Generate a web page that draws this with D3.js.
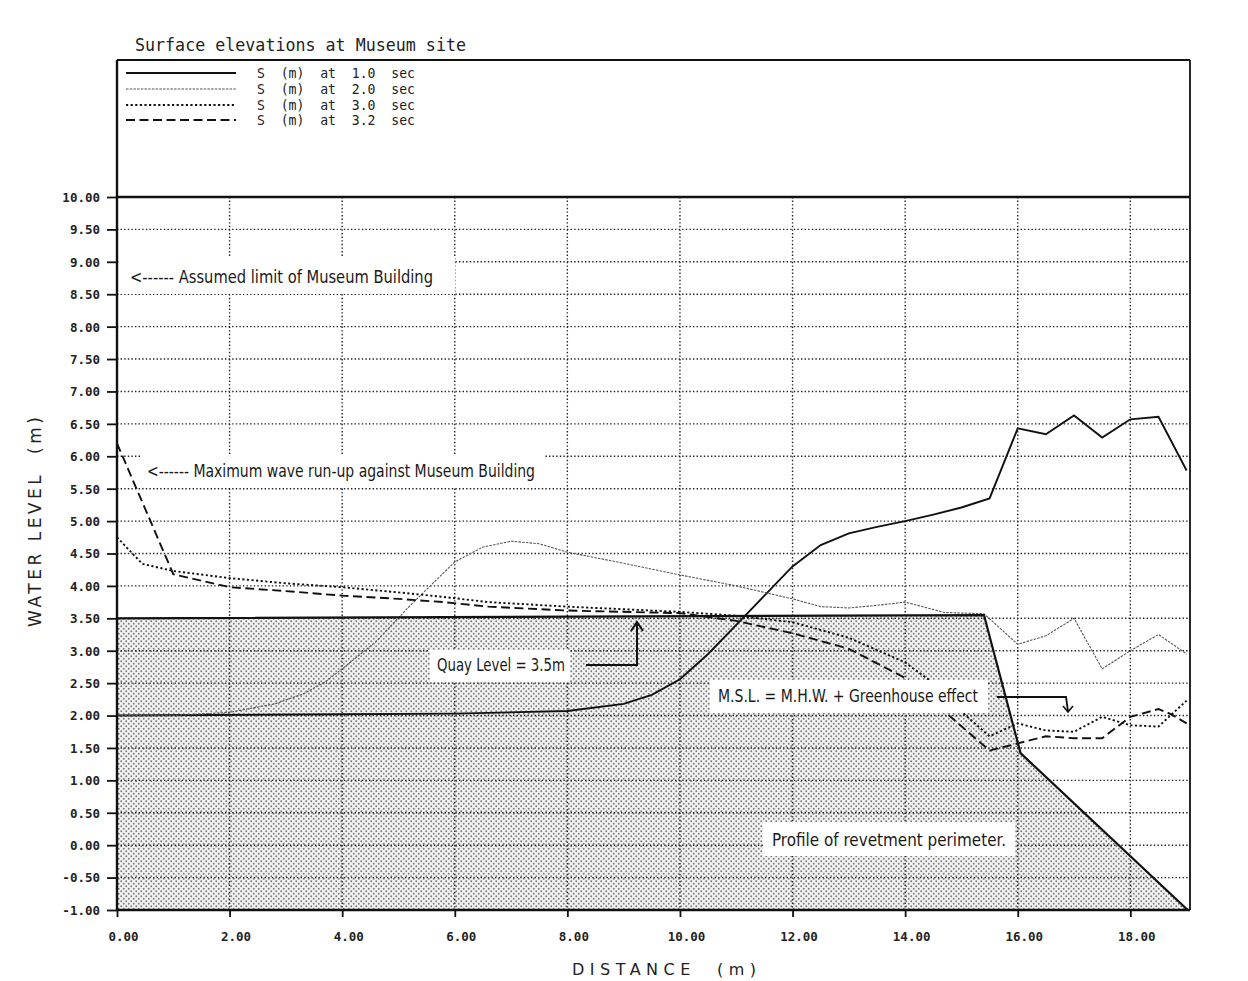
<!DOCTYPE html>
<html>
<head>
<meta charset="utf-8">
<script src="https://cdn.jsdelivr.net/npm/d3@7"></script>
<style>
  body { margin: 0; background: #fff; }
  svg { display: block; }
</style>
</head>
<body>
<svg id="chart" width="1248" height="981"></svg>
<script>
"use strict";

// ---- data ----
var titleText = "Surface elevations at Museum site";
var seriesNames = ["S  (m)  at  1.0  sec", "S  (m)  at  2.0  sec", "S  (m)  at  3.0  sec", "S  (m)  at  3.2  sec"];

// surface elevation S (m) against distance (m)
var s10 = [[0,2.0],[4,2.02],[6,2.03],[8,2.07],[9,2.18],[9.5,2.32],[10,2.56],[10.5,2.95],[11,3.4],[11.5,3.85],
           [12,4.3],[12.5,4.63],[13,4.81],[13.5,4.91],[14,5.0],[14.5,5.1],[15,5.21],[15.5,5.35],
           [16,6.43],[16.5,6.34],[17,6.63],[17.5,6.29],[18,6.57],[18.5,6.61],[19,5.78]];
var s20 = [[0,2.0],[1,2.0],[2,2.05],[2.8,2.18],[3.3,2.33],[3.7,2.52],[4,2.72],[4.6,3.14],[5.2,3.69],[5.8,4.2],
           [6,4.37],[6.5,4.6],[7,4.69],[7.5,4.65],[8,4.52],[9,4.35],[10,4.17],[11,4.0],[12,3.8],[12.5,3.68],
           [13,3.66],[13.5,3.7],[14,3.75],[14.7,3.59],[15.4,3.57],[16,3.1],[16.5,3.23],[17,3.5],[17.5,2.72],
           [18,3.0],[18.5,3.25],[19,2.95]];
var s30 = [[0,4.75],[0.45,4.34],[1,4.23],[2,4.12],[3,4.04],[4,3.98],[5,3.9],[5.8,3.83],[6.6,3.75],[8,3.68],
           [10,3.6],[11,3.54],[12,3.44],[13,3.2],[14,2.82],[14.5,2.5],[15,2.06],[15.5,1.68],[16,1.88],
           [16.5,1.77],[17,1.75],[17.5,1.98],[18,1.85],[18.5,1.83],[18.9,2.15],[19,2.23]];
var s32 = [[0,6.2],[1,4.18],[2,3.98],[3,3.92],[4,3.85],[5,3.8],[5.8,3.75],[6.6,3.68],[8,3.62],[10,3.58],
           [11,3.46],[12,3.27],[13,3.03],[14,2.58],[14.7,2.06],[15.5,1.46],[16,1.57],[16.5,1.68],[17,1.65],
           [17.5,1.65],[18,1.98],[18.5,2.1],[18.7,2.03],[19,1.88]];

// profile of the revetment perimeter (quay level 3.5 m)
var profile = [[0,3.5],[15.4,3.55],[16.05,1.42],[19.02,-1.0]];

var xTicks = [0, 2, 4, 6, 8, 10, 12, 14, 16, 18];
var yTicks = [-1, -0.5, 0, 0.5, 1, 1.5, 2, 2.5, 3, 3.5, 4, 4.5, 5, 5.5, 6, 6.5, 7, 7.5, 8, 8.5, 9, 9.5, 10];

// ---- layout ----
var plotL = 117, plotR = 1190, plotT = 197, plotB = 910, boxTop = 60;
var x = d3.scaleLinear().domain([0, 19.06]).range([plotL, plotR]);
var y = d3.scaleLinear().domain([-1, 10]).range([plotB, plotT]);

var svg = d3.select("#chart");
var monoFont = "'DejaVu Sans Mono', 'Liberation Mono', monospace";
var narrowFont = "'Liberation Sans Narrow', 'DejaVu Sans Condensed', 'Roboto', sans-serif";

svg.append("rect").attr("width", 1248).attr("height", 981).attr("fill", "#fff");

var defs = svg.append("defs");
var pat = defs.append("pattern")
    .attr("id", "stipple")
    .attr("width", 5).attr("height", 5)
    .attr("patternUnits", "userSpaceOnUse");
pat.append("rect").attr("width", 5).attr("height", 5).attr("fill", "#f2f2f2");
pat.append("circle").attr("cx", 1.25).attr("cy", 1.25).attr("r", 0.95).attr("fill", "#7a7a7a");
pat.append("circle").attr("cx", 3.75).attr("cy", 3.75).attr("r", 0.95).attr("fill", "#7a7a7a");

// shaded revetment body
var area = d3.area().x(function (d) { return x(d[0]); }).y0(y(-1)).y1(function (d) { return y(d[1]); });
svg.append("path").datum(profile).attr("d", area).attr("fill", "url(#stipple)");

// dotted grid
var grid = svg.append("g").attr("class", "grid");
grid.selectAll("line.h")
    .data(yTicks.filter(function (d) { return d > -1 && d < 10; }))
    .enter().append("line")
    .attr("x1", plotL).attr("x2", plotR)
    .attr("y1", function (d) { return y(d); }).attr("y2", function (d) { return y(d); })
    .style("stroke", "#222").style("stroke-width", 1.4).style("stroke-dasharray", "1.4,2.2");
grid.selectAll("line.v")
    .data(xTicks.filter(function (d) { return d > 0; }))
    .enter().append("line")
    .attr("x1", function (d) { return x(d); }).attr("x2", function (d) { return x(d); })
    .attr("y1", plotT).attr("y2", plotB)
    .style("stroke", "#222").style("stroke-width", 1.4).style("stroke-dasharray", "1.4,2.2");

// series lines
var line = d3.line().x(function (d) { return x(d[0]); }).y(function (d) { return y(d[1]); });
var styles = [
    { data: s10, width: 1.9, dash: null, color: "#111" },
    { data: s20, width: 1.1, dash: "2.5,1.2", color: "#555" },
    { data: s30, width: 1.9, dash: "2.2,2.4", color: "#111" },
    { data: s32, width: 1.9, dash: "9,4.5", color: "#111" }
];
styles.forEach(function (s) {
    svg.append("path").datum(s.data)
        .attr("d", line)
        .style("fill", "none")
        .style("stroke", s.color)
        .style("stroke-width", s.width)
        .style("stroke-dasharray", s.dash);
});

// annotation boxes blank out grid and lines behind the texts
var boxes = [
    [120, 258, 335, 36],
    [140, 454, 405, 34],
    [430, 650, 140, 32],
    [710, 680, 278, 33],
    [763, 822, 252, 34]
];
svg.selectAll("rect.box").data(boxes).enter().append("rect")
    .attr("x", function (d) { return d[0]; }).attr("y", function (d) { return d[1]; })
    .attr("width", function (d) { return d[2]; }).attr("height", function (d) { return d[3]; })
    .attr("fill", "#fff");

// profile outline
svg.append("path").datum(profile).attr("d", line)
    .style("fill", "none").style("stroke", "#111").style("stroke-width", 2.2);

// axes
var yAxis = svg.append("g").attr("transform", "translate(" + plotL + ",0)")
    .call(d3.axisLeft(y).tickValues(yTicks).tickSize(10).tickFormat(function (d) { return d.toFixed(2); }));
var xAxis = svg.append("g").attr("transform", "translate(0," + plotB + ")")
    .call(d3.axisBottom(x).tickValues(xTicks).tickSize(7).tickFormat(function (d) { return d.toFixed(2); }));
[yAxis, xAxis].forEach(function (a) {
    a.select(".domain").remove();
    a.selectAll(".tick line").style("stroke", "#111").style("stroke-width", 1.8);
    a.selectAll(".tick text")
        .style("font-family", monoFont).style("font-weight", "bold")
        .style("font-size", "12.5px").style("fill", "#222");
});
yAxis.selectAll(".tick text").attr("x", -17).attr("dy", "0.35em");
xAxis.selectAll(".tick text").attr("dx", 6).attr("y", 22);

// frame
var frame = svg.append("g").style("stroke", "#111").style("fill", "none");
frame.append("line").attr("x1", plotL).attr("x2", plotL).attr("y1", boxTop).attr("y2", plotB).style("stroke-width", 2.4);
frame.append("line").attr("x1", plotL).attr("x2", plotR).attr("y1", plotB).attr("y2", plotB).style("stroke-width", 2.4);
frame.append("line").attr("x1", plotR).attr("x2", plotR).attr("y1", boxTop).attr("y2", plotB).style("stroke-width", 1.8);
frame.append("line").attr("x1", plotL).attr("x2", plotR).attr("y1", boxTop).attr("y2", boxTop).style("stroke-width", 1.8);
frame.append("line").attr("x1", plotL).attr("x2", plotR).attr("y1", plotT).attr("y2", plotT).style("stroke-width", 2.4);

// title and legend
svg.append("text").attr("x", 135).attr("y", 51)
    .attr("textLength", 331).attr("lengthAdjust", "spacingAndGlyphs")
    .style("font-family", monoFont).style("font-size", "17px").style("fill", "#222")
    .text(titleText);

var legend = svg.append("g");
var rows = [73, 89, 105, 120];
styles.forEach(function (s, i) {
    legend.append("line")
        .attr("x1", 126).attr("x2", 236).attr("y1", rows[i]).attr("y2", rows[i])
        .style("stroke", s.color).style("stroke-width", s.width).style("stroke-dasharray", s.dash);
    legend.append("text")
        .attr("x", 257).attr("y", rows[i]).attr("dy", "0.35em")
        .attr("xml:space", "preserve")
        .attr("textLength", 158).attr("lengthAdjust", "spacingAndGlyphs")
        .style("font-family", monoFont).style("font-size", "14px").style("fill", "#222")
        .style("white-space", "pre")
        .text(seriesNames[i]);
});

// axis titles
svg.append("text")
    .attr("transform", "translate(41,522) rotate(-90)")
    .attr("text-anchor", "middle")
    .attr("xml:space", "preserve").style("white-space", "pre")
    .attr("textLength", 210).attr("lengthAdjust", "spacing")
    .style("font-family", "'DejaVu Sans', sans-serif").style("font-size", "17px").style("fill", "#222")
    .text("WATER LEVEL  (m)");
svg.append("text")
    .attr("x", 664).attr("y", 975)
    .attr("text-anchor", "middle")
    .attr("xml:space", "preserve").style("white-space", "pre")
    .attr("textLength", 184).attr("lengthAdjust", "spacing")
    .style("font-family", "'DejaVu Sans', sans-serif").style("font-size", "16px").style("fill", "#222")
    .text("DISTANCE  (m)");

// annotations
var notes = [
    { text: "<------ Assumed limit of Museum Building", x: 130, y: 277, w: 303 },
    { text: "<------ Maximum wave run-up against Museum Building", x: 147, y: 471, w: 388 },
    { text: "Quay Level = 3.5m", x: 437, y: 665, w: 128 },
    { text: "M.S.L. = M.H.W. + Greenhouse effect", x: 718, y: 696, w: 260 },
    { text: "Profile of revetment perimeter.", x: 772, y: 840, w: 234 }
];
svg.selectAll("text.note").data(notes).enter().append("text")
    .attr("x", function (d) { return d.x; }).attr("y", function (d) { return d.y; })
    .attr("dy", "0.36em")
    .attr("textLength", function (d) { return d.w; }).attr("lengthAdjust", "spacingAndGlyphs")
    .style("font-family", narrowFont).style("font-size", "17px").style("fill", "#1a1a1a")
    .text(function (d) { return d.text; });

// leader arrows
var arrows = svg.append("g").style("fill", "none").style("stroke", "#111").style("stroke-width", 2);
arrows.append("polyline").attr("points", "586,665 637,665 637,623");
arrows.append("polyline").attr("points", "631,631 637,622 643,631");
arrows.append("polyline").attr("points", "997,697 1066,697 1068,711").style("stroke-width", 1.8);
arrows.append("polyline").attr("points", "1063,706 1068,712 1073,706").style("stroke-width", 1.6);
</script>
</body>
</html>
